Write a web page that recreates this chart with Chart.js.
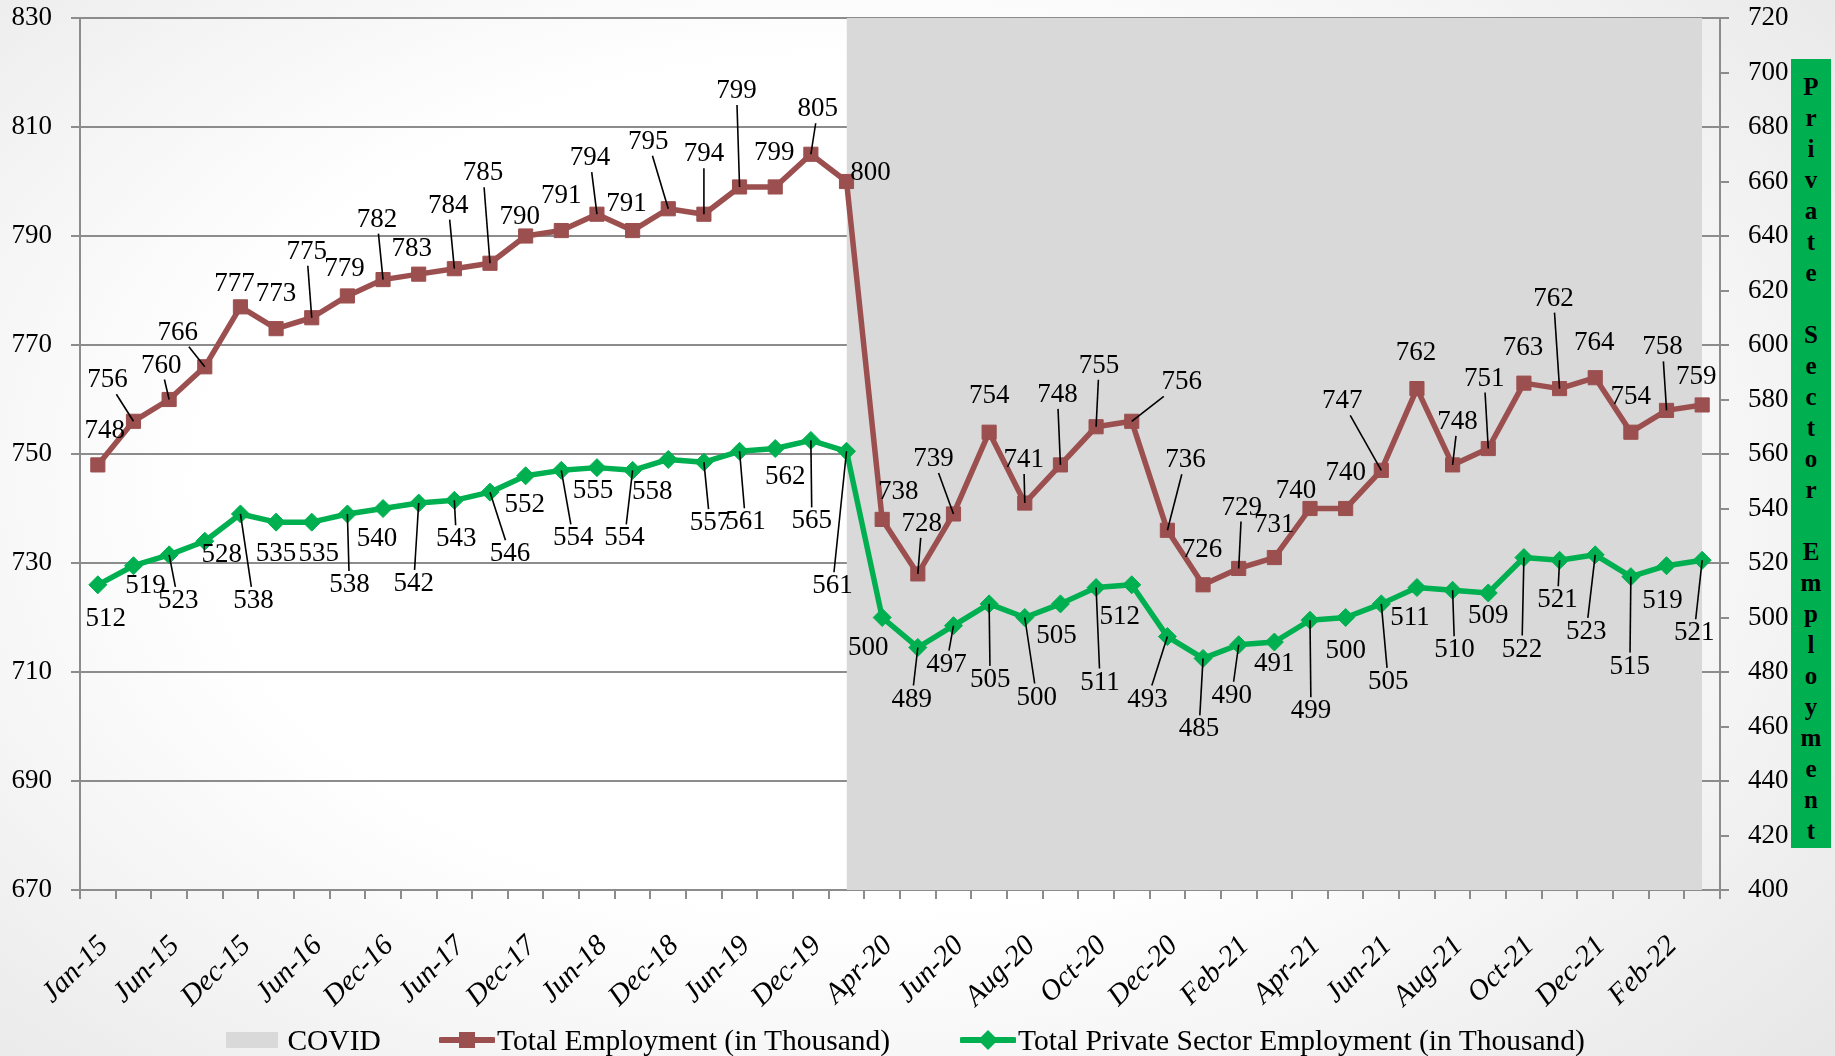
<!DOCTYPE html>
<html>
<head>
<meta charset="utf-8">
<title>Employment</title>
<script src="https://cdn.jsdelivr.net/npm/chart.js@4.4.1/dist/chart.umd.min.js"></script>
<style>
  html, body { margin: 0; padding: 0; }
  body {
    width: 1835px; height: 1056px; overflow: hidden; position: relative;
    background: radial-gradient(ellipse 78% 90% at 46% 46%, #ffffff 45%, #e2e2e2 100%);
    font-family: "Liberation Serif", serif;
  }
  #chart { position: absolute; left: 0; top: 0; }
  #axis-title {
    position: absolute; left: 1791px; top: 59px; width: 40px; height: 789px;
    background: #00b050; box-sizing: border-box; padding-top: 12px;
  }
  #axis-title div {
    height: 31px; line-height: 31px; text-align: center;
    font-weight: bold; font-size: 25px; color: #000;
  }
  .item { position: absolute; top: 1024px; height: 32px; display: flex; align-items: center; font-size: 29.5px; white-space: nowrap; color: #000; }
  .item svg { margin-right: 2px; }
</style>
</head>
<body>
<canvas id="chart" width="1835" height="1056"></canvas>
<div id="axis-title"></div>

<div class="item" style="left:226px">
  <svg width="52" height="16"><rect x="0" y="0" width="52" height="16" fill="#d9d9d9"/></svg>
  <span>&nbsp;COVID</span>
</div>
<div class="item" style="left:439px">
  <svg width="56" height="20"><line x1="2" y1="10" x2="54" y2="10" stroke="#9c4f4f" stroke-width="6" stroke-linecap="round"/><rect x="20" y="2" width="16" height="16" fill="#9c4f4f"/></svg>
  <span>Total Employment (in Thousand)</span>
</div>
<div class="item" style="left:960px">
  <svg width="56" height="22"><line x1="2" y1="11" x2="54" y2="11" stroke="#00b050" stroke-width="6" stroke-linecap="round"/><polygon points="28,1 38,11 28,21 18,11" fill="#00b050"/></svg>
  <span>Total Private Sector Employment (in Thousand)</span>
</div>

<script>
// categories (quarterly until Mar-20, then monthly)
const months = ['Jan-15','Mar-15','Jun-15','Sep-15','Dec-15','Mar-16','Jun-16','Sep-16','Dec-16',
  'Mar-17','Jun-17','Sep-17','Dec-17','Mar-18','Jun-18','Sep-18','Dec-18','Mar-19','Jun-19','Sep-19',
  'Dec-19','Mar-20','Apr-20','May-20','Jun-20','Jul-20','Aug-20','Sep-20','Oct-20','Nov-20','Dec-20',
  'Jan-21','Feb-21','Mar-21','Apr-21','May-21','Jun-21','Jul-21','Aug-21','Sep-21','Oct-21','Nov-21',
  'Dec-21','Jan-22','Feb-22','Mar-22'];

// total employment, thousands (left axis)
const totalEmployment = [748, 756, 760, 766, 777, 773, 775, 779, 782, 783, 784, 785, 790, 791, 794, 791,
  795, 794, 799, 799, 805, 800, 738, 728, 739, 754, 741, 748, 755, 756, 736, 726, 729, 731, 740, 740,
  747, 762, 748, 751, 763, 762, 764, 754, 758, 759];

// private sector employment, thousands (right axis)
const privateEmployment = [512, 519, 523, 528, 538, 535, 535, 538, 540, 542, 543, 546, 552, 554, 555, 554,
  558, 557, 561, 562, 565, 561, 500, 489, 497, 505, 500, 505, 511, 512, 493, 485, 490, 491, 499, 500,
  505, 511, 510, 509, 522, 521, 523, 515, 519, 521];

// covid period starts here, shaded up to the top of the right axis
const covidStart = 'Mar-20';
const covidLevel = 720;

// axis ranges
const leftTicks = { min: 670, max: 830, step: 20 };
const rightTicks = { min: 400, max: 720, step: 20 };

const axisTitle = 'Private Sector Employment';

// where each value label sits, relative to its point (px)
const totalLabelPos = [[7,-34],[-26,-41],[-8,-34],[-27,-34],[-6,-23],[0,-35],[-5,-66],[-3,-27],[-6,-60],
  [-7,-25],[-6,-63],[-7,-90],[-6,-19],[0,-35],[-7,-56],[-6,-27],[-20,-67],[0,-60],[-3,-96],[-1,-34],
  [7,-45],[24,-9],[16,-27],[4,-50],[-20,-55],[0,-36],[-1,-43],[-3,-70],[3,-61],[50,-39],[18,-70],
  [-1,-35],[3,-61],[0,-33],[-14,-18],[0,-36],[-39,-69],[-1,-36],[5,-43],[-4,-70],[-1,-35],[-6,-90],
  [-1,-35],[0,-35],[-4,-63],[-6,-28]];
const totalLeaders = [1,2,3,6,8,10,11,14,16,17,18,20,23,24,26,27,28,29,30,32,36,38,39,41,44];

const privateLabelPos = [[8,34],[12,20],[9,46],[17,14],[13,87],[0,32],[7,32],[2,71],[-6,30],[-5,81],
  [2,39],[20,62],[-1,29],[12,68],[-4,23],[-8,68],[-16,32],[6,61],[6,71],[10,28],[1,81],[-14,135],
  [-14,30],[-6,52],[-7,39],[1,76],[12,80],[-4,32],[4,95],[-12,32],[-20,63],[-4,71],[-7,51],[0,22],
  [1,91],[0,33],[7,78],[-7,30],[2,60],[0,23],[-2,92],[-2,40],[-9,77],[-1,90],[-4,35],[-8,73]];
const privateLeaders = [2,4,7,9,10,11,13,15,17,18,20,21,23,24,25,26,28,30,31,32,34,36,38,40,41,42,43,45];

// build the stacked letters of the right axis title
const titleBox = document.getElementById('axis-title');
for (const ch of axisTitle) {
  const d = document.createElement('div');
  d.textContent = ch === ' ' ? '\u00a0' : ch;
  titleBox.appendChild(d);
}

const serif = '"Liberation Serif", "Times New Roman", serif';
const gridGray = '#8c8c8c';
const startIdx = months.indexOf(covidStart);
const covid = months.map((m, i) => i >= startIdx ? covidLevel : null);

// draws the value labels and their leader lines
const pointLabels = {
  id: 'pointLabels',
  afterDatasetsDraw(chart) {
    const ctx = chart.ctx;
    const sets = [
      { idx: 1, values: totalEmployment, pos: totalLabelPos, leaders: totalLeaders },
      { idx: 2, values: privateEmployment, pos: privateLabelPos, leaders: privateLeaders }
    ];
    ctx.save();
    ctx.font = '27px ' + serif;
    ctx.textAlign = 'center';
    ctx.textBaseline = 'middle';
    ctx.fillStyle = '#000';
    ctx.strokeStyle = '#000';
    ctx.lineWidth = 1.6;
    sets.forEach(set => {
      chart.getDatasetMeta(set.idx).data.forEach((pt, i) => {
        const cx = pt.x + set.pos[i][0];
        const cy = pt.y + set.pos[i][1];
        const text = String(set.values[i]);
        if (set.leaders.includes(i)) {
          const hw = ctx.measureText(text).width / 2 + 2;
          const hh = 14;
          const vx = pt.x - cx, vy = pt.y - cy;
          const t = Math.min(hw / Math.max(Math.abs(vx), 0.001), hh / Math.max(Math.abs(vy), 0.001));
          ctx.beginPath();
          ctx.moveTo(cx + vx * t, cy + vy * t);
          ctx.lineTo(pt.x, pt.y);
          ctx.stroke();
        }
        ctx.fillText(text, cx, cy);
      });
    });
    ctx.restore();
  }
};

// keep the plot box where the reference has it
function noVerticalPad(scale) {
  scale.paddingTop = 0;
  scale.paddingBottom = 0;
}

new Chart(document.getElementById('chart'), {
  type: 'line',
  data: {
    labels: months,
    datasets: [
      {
        label: 'COVID',
        data: covid,
        yAxisID: 'y2',
        fill: 'start',
        backgroundColor: '#d9d9d9',
        borderWidth: 0,
        pointRadius: 0,
        spanGaps: false,
        order: 3
      },
      {
        label: 'Total Employment (in Thousand)',
        data: totalEmployment,
        yAxisID: 'y',
        borderColor: '#9c4f4f',
        backgroundColor: '#9c4f4f',
        borderWidth: 5.5,
        borderJoinStyle: 'round',
        pointStyle: 'rect',
        pointRadius: 10,
        pointBorderWidth: 1,
        pointBackgroundColor: '#9c4f4f',
        pointBorderColor: '#9c4f4f',
        order: 1
      },
      {
        label: 'Total Private Sector Employment (in Thousand)',
        data: privateEmployment,
        yAxisID: 'y2',
        borderColor: '#00b050',
        backgroundColor: '#00b050',
        borderWidth: 5.5,
        borderJoinStyle: 'round',
        pointStyle: 'rectRot',
        pointRadius: 9,
        pointBorderWidth: 1,
        pointBackgroundColor: '#00b050',
        pointBorderColor: '#00b050',
        order: 2
      }
    ]
  },
  options: {
    responsive: false,
    animation: false,
    layout: { autoPadding: false, padding: { top: 18, right: 0, bottom: 0, left: 0 } },
    plugins: {
      legend: { display: false },
      tooltip: { enabled: false }
    },
    scales: {
      x: {
        offset: true,
        grid: { offset: true, drawOnChartArea: false, color: gridGray, lineWidth: 2, tickLength: 9 },
        border: { color: gridGray, width: 2 },
        ticks: {
          autoSkip: false,
          minRotation: 45,
          maxRotation: 45,
          padding: 30,
          labelOffset: 6,
          color: '#000',
          font: { family: serif, size: 29, style: 'italic' },
          callback(value, index) {
            return index % 2 === 0 ? this.getLabelForValue(value) : '';
          }
        },
        afterFit(scale) { scale.height = 166; }
      },
      y: {
        position: 'left',
        min: leftTicks.min,
        max: leftTicks.max,
        grid: { color: gridGray, lineWidth: 2, tickLength: 9 },
        border: { color: gridGray, width: 2 },
        ticks: { stepSize: leftTicks.step, padding: 19, color: '#000', font: { family: serif, size: 27 } },
        afterFit(scale) { scale.width = 80; noVerticalPad(scale); }
      },
      y2: {
        position: 'right',
        min: rightTicks.min,
        max: rightTicks.max,
        grid: { drawOnChartArea: false, color: gridGray, lineWidth: 2, tickLength: 9 },
        border: { color: gridGray, width: 2 },
        ticks: { stepSize: rightTicks.step, padding: 19, color: '#000', font: { family: serif, size: 27 } },
        afterFit(scale) { scale.width = 115; noVerticalPad(scale); }
      }
    }
  },
  plugins: [pointLabels]
});
</script>
</body>
</html>
